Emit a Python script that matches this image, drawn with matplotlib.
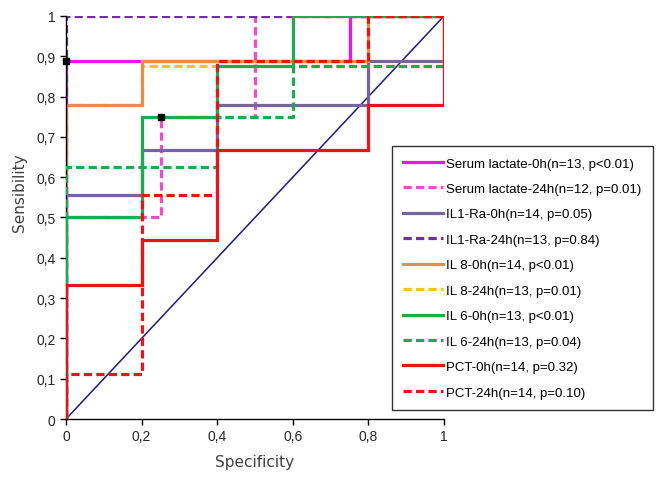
import numpy as np
import matplotlib.pyplot as plt

plt.rcParams['font.family'] = ['Liberation Sans', 'DejaVu Sans']

# ROC step curves (x = specificity axis, y = sensibility)
lact0_x = [0, 0, 0.75, 0.75, 1]
lact0_y = [0, 0.889, 0.889, 1, 1]
lact24_x = [0, 0, 0.25, 0.25, 0.5, 0.5, 1]
lact24_y = [0, 0.5, 0.5, 0.75, 0.75, 1, 1]
il1ra0_x = [0, 0, 0.2, 0.2, 0.4, 0.4, 0.8, 0.8, 1, 1]
il1ra0_y = [0, 0.556, 0.556, 0.667, 0.667, 0.778, 0.778, 0.889, 0.889, 1]
il1ra24_x = [0, 0, 1]
il1ra24_y = [0, 1, 1]
il80_x = [0, 0, 0.2, 0.2, 0.8, 0.8, 1]
il80_y = [0, 0.778, 0.778, 0.889, 0.889, 1, 1]
il824_x = [0, 0, 0.2, 0.2, 1, 1]
il824_y = [0, 0.778, 0.778, 0.875, 0.875, 1]
il60_x = [0, 0, 0.2, 0.2, 0.4, 0.4, 0.6, 0.6, 1]
il60_y = [0, 0.5, 0.5, 0.75, 0.75, 0.875, 0.875, 1, 1]
il624_x = [0, 0, 0.4, 0.4, 0.6, 0.6, 1, 1]
il624_y = [0, 0.625, 0.625, 0.75, 0.75, 0.875, 0.875, 1]
pct0_x = [0, 0, 0.2, 0.2, 0.4, 0.4, 0.8, 0.8, 1, 1]
pct0_y = [0, 0.333, 0.333, 0.444, 0.444, 0.667, 0.667, 0.778, 0.778, 1]
pct24_x = [0, 0, 0.2, 0.2, 0.4, 0.4, 0.8, 0.8, 1]
pct24_y = [0, 0.111, 0.111, 0.556, 0.556, 0.889, 0.889, 1, 1]

labels = [
    "Serum lactate-0h(n=13, p<0.01)",
    "Serum lactate-24h(n=12, p=0.01)",
    "IL1-Ra-0h(n=14, p=0.05)",
    "IL1-Ra-24h(n=13, p=0.84)",
    "IL 8-0h(n=14, p<0.01)",
    "IL 8-24h(n=13, p=0.01)",
    "IL 6-0h(n=13, p<0.01)",
    "IL 6-24h(n=13, p=0.04)",
    "PCT-0h(n=14, p=0.32)",
    "PCT-24h(n=14, p=0.10)",
]
curves = [
    (lact0_x, lact0_y), (lact24_x, lact24_y),
    (il1ra0_x, il1ra0_y), (il1ra24_x, il1ra24_y),
    (il80_x, il80_y), (il824_x, il824_y),
    (il60_x, il60_y), (il624_x, il624_y),
    (pct0_x, pct0_y), (pct24_x, pct24_y),
]
colors = ["#F012EC", "#F04BC8", "#76659A", "#7030A0", "#E0904A",
          "#FFC21A", "#1DAA50", "#1DAA50", "#E8141B", "#E8141B"]
dashed = [False, True] * 5
# the IL 8-24h curve sits under IL 8-0h on the chart
layer = [2, 2.1, 2.2, 2.3, 2.5, 2.4, 2.6, 2.7, 2.8, 2.9]

# small black point marks seen on the chart
mark_x = [0, 0.25]
mark_y = [0.889, 0.75]

fig = plt.figure(figsize=(6.58, 4.81), dpi=100)
ax = fig.add_axes([0.1003, 0.1268, 0.5745, 0.8379])

ax.plot([0, 1], [0, 1], color="#1C1C78", lw=1.1, zorder=1)

for (xs, ys), lab, c, d, z in zip(curves, labels, colors, dashed, layer):
    line, = ax.plot(xs, ys, color=c, lw=2.3, label=lab, zorder=z,
                    solid_joinstyle='miter')
    if d:
        line.set_dashes([2.6, 1.3])

ax.plot(mark_x, mark_y, 's', color='black', ms=4.2, zorder=4, clip_on=False)

ax.set_xlim(0, 1)
ax.set_ylim(0, 1)
xt = np.arange(0, 1.01, 0.2)
yt = np.arange(0, 1.01, 0.1)
ax.set_xticks(xt)
ax.set_yticks(yt)
ax.set_xticklabels([("%g" % v).replace('.', ',') for v in xt])
ax.set_yticklabels([("%g" % v).replace('.', ',') for v in yt])
ax.tick_params(labelsize=10, length=4, width=1, color='black',
               labelcolor='#262626')
for s in ['top', 'right']:
    ax.spines[s].set_visible(False)
for s in ['left', 'bottom']:
    ax.spines[s].set_linewidth(1)
    ax.spines[s].set_color('black')

ax.set_xlabel("Specificity", fontsize=11, family='DejaVu Sans', color='#404040')
ax.set_ylabel("Sensibility", fontsize=11, family='DejaVu Sans', color='#404040')
ax.xaxis.set_label_coords(0.5, -0.087)
ax.yaxis.set_label_coords(-0.104, 0.563)

leg = fig.legend(loc='upper left', bbox_to_anchor=(0.596, 0.694),
                 bbox_transform=fig.transFigure, fontsize=9.5,
                 frameon=True, fancybox=False, edgecolor='black',
                 handlelength=3.0, handletextpad=0.25, labelspacing=1.0,
                 borderpad=0.85, borderaxespad=0)
leg.get_frame().set_linewidth(1)

fig.savefig("out.png", dpi=100)
